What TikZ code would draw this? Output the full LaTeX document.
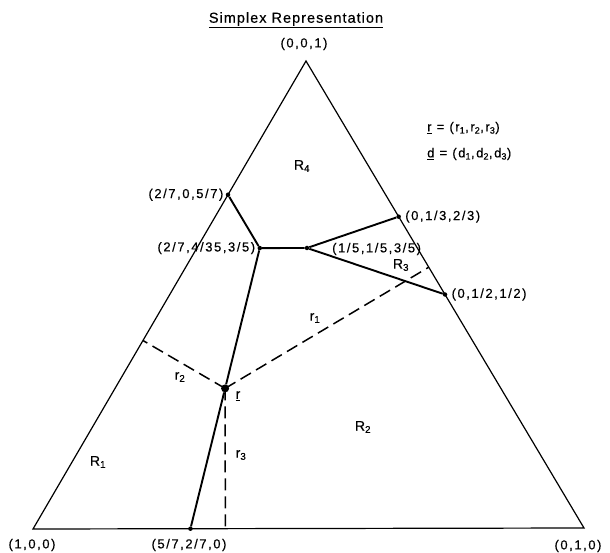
\documentclass[tikz,border=0pt]{standalone}
\usepackage{fontspec}
\setmainfont{Liberation Sans}
\newfontfamily\lbl[LetterSpace=12,FakeBold=0.4]{Liberation Sans}
\newfontfamily\ttl[LetterSpace=7,FakeBold=0.4]{Liberation Sans}
\usetikzlibrary{calc}
\begin{document}
\begin{tikzpicture}[x=1pt,y=-1pt,
  edge/.style={line width=1.2pt},
  bound/.style={line width=1.9pt},
  dist/.style={line width=1.5pt,dash pattern=on 12pt off 6pt},
  dot/.style={circle,fill,inner sep=0pt,minimum size=4.5pt},
  bigdot/.style={circle,fill,inner sep=0pt,minimum size=8pt},
  lab/.style={font=\lbl\fontsize{13}{15}\selectfont,inner sep=1pt},
  reg/.style={font=\lbl\fontsize{14}{16}\selectfont,inner sep=1pt}]
\useasboundingbox (0,0) rectangle (610,553);
\coordinate (A) at (33,529);
\coordinate (B) at (584,528);
\coordinate (C) at (306,61);
\draw[edge] (A) -- (B) -- (C) -- cycle;
% vertices of region boundaries
\node[dot] (p1) at (barycentric cs:A=0.285714,B=0,C=0.714286) {};
\node[dot] (p2) at (barycentric cs:A=0.285714,B=0.114286,C=0.6) {};
\node[dot] (p3) at (barycentric cs:A=0.2,B=0.2,C=0.6) {};
\node[dot] (p4) at (barycentric cs:A=0,B=0.333333,C=0.666667) {};
\node[dot] (p5) at (barycentric cs:A=0,B=0.5,C=0.5) {};
\node[dot] (p6) at (barycentric cs:A=0.714286,B=0.285714,C=0) {};
\node[bigdot] (r) at (barycentric cs:A=0.5,B=0.2,C=0.3) {};
\draw[bound] (p1) -- (p2) -- (p3) -- (p4);
\draw[bound] (p3) -- (p5);
\draw[bound] (p2) -- (r) -- (p6);
% distances
\coordinate (f1) at ($(B)!(r)!(C)$);
\coordinate (f2) at ($(A)!(r)!(C)$);
\coordinate (f3) at ($(A)!(r)!(B)$);
\draw[dist] (r.center) -- (f1);
\draw[dist] (r.center) -- (f2);
\draw[dist] (r.center) -- (f3);
% labels
\node[font=\ttl\fontsize{14.5}{16}\selectfont] (title) at (296,20) {\underline{Simplex Representation}};
\node[lab] (lC) at (304,44) {(0,0,1)};
\node[lab] (lA) at (32,545) {(1,0,0)};
\node[lab] (lB) at (578,546) {(0,1,0)};
\node[lab,anchor=east] (l1) at ([xshift=-1pt]p1.west) {(2/7,0,5/7)};
\node[lab,anchor=east] (l2) at ([xshift=-1pt]p2.west) {(2/7,4/35,3/5)};
\node[lab,anchor=west] (l3) at (331,249) {(1/5,1/5,3/5)};
\node[lab,anchor=west] (l4) at ([xshift=3pt]p4.east) {(0,1/3,2/3)};
\node[lab,anchor=west] (l5) at ([xshift=3pt]p5.east) {(0,1/2,1/2)};
\node[lab] (l6) at (189,545) {(5/7,2/7,0)};
\node[reg] (R1) at (98,462) {R\textsubscript{1}};
\node[reg] (R2) at (363,427) {R\textsubscript{2}};
\node[reg] (R3) at (401,265) {R\textsubscript{3}};
\node[reg] (R4) at (302,166) {R\textsubscript{4}};
\node[reg] (r1) at (315,318) {r\textsubscript{1}};
\node[reg] (r2) at (180,377) {r\textsubscript{2}};
\node[reg] (r3) at (241,455) {r\textsubscript{3}};
\node[reg] (rr) at (238,396) {\underline{r}};
\node[lab,anchor=west] (leg1) at (426,128) {\underline{r} = (r\textsubscript{1},r\textsubscript{2},r\textsubscript{3})};
\node[lab,anchor=west] (leg2) at (426,154) {\underline{d} = (d\textsubscript{1},d\textsubscript{2},d\textsubscript{3})};
\end{tikzpicture}
\end{document}
